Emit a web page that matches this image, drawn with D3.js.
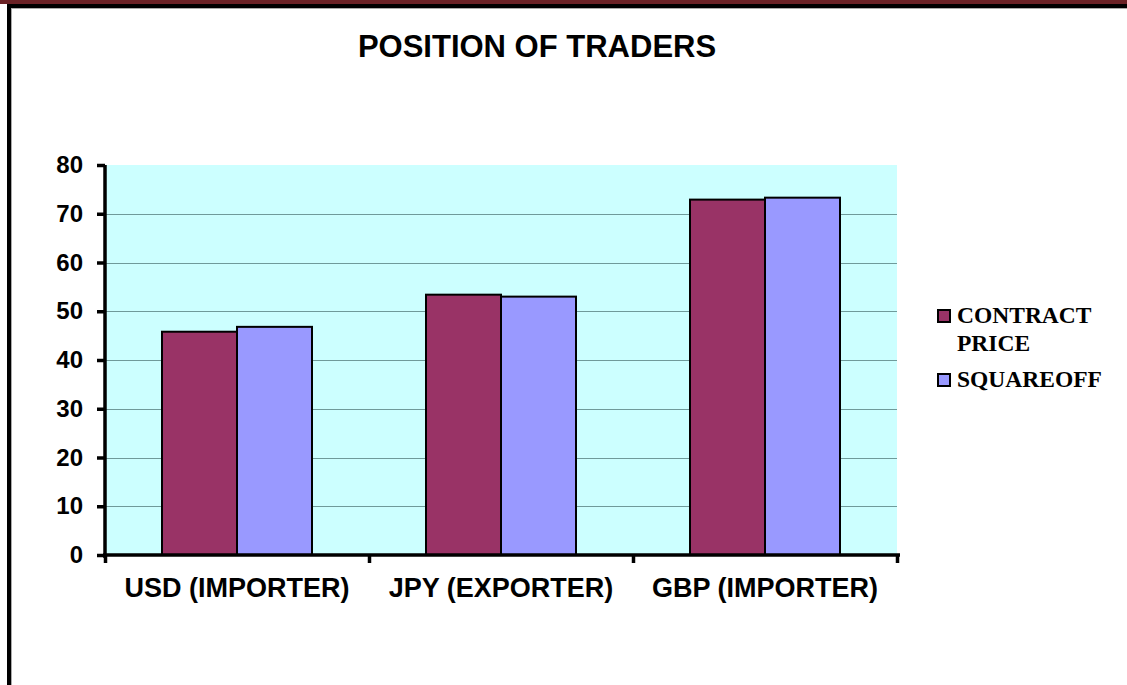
<!DOCTYPE html>
<html lang="en">
<head>
  <meta charset="UTF-8">
  <title>Position of Traders</title>
  <script src="https://d3js.org/d3.v7.min.js"></script>
  <style>
    body { margin: 0; background: #fff; }
    svg { display: block; }
  </style>
</head>
<body>
  <div id="chart"></div>

  <script>
    // data
    const categories = ["USD (IMPORTER)", "JPY (EXPORTER)", "GBP (IMPORTER)"];
    const seriesNames = ["CONTRACT PRICE", "SQUAREOFF"];
    const contractPrice = [45.8, 53.4, 72.9];
    const squareoff = [46.8, 53.0, 73.3];
    const yTicks = [0, 10, 20, 30, 40, 50, 60, 70, 80];

    const colors = ["#993366", "#9999FF"];
    const W = 1127, H = 685;

    const svg = d3.select("#chart").append("svg")
      .attr("width", W)
      .attr("height", H);

    // outer frame
    svg.append("rect").attr("x", 0).attr("y", 0).attr("width", W).attr("height", 4).attr("fill", "#6B2226");
    svg.append("rect").attr("x", 7).attr("y", 4).attr("width", W - 7).attr("height", 4).attr("fill", "#000");
    svg.append("rect").attr("x", 7).attr("y", 4).attr("width", 4).attr("height", H - 4).attr("fill", "#000");
    svg.append("line").attr("x1", 11).attr("x2", W).attr("y1", 8.5).attr("y2", 8.5).attr("stroke", "#aaa");
    svg.append("line").attr("x1", 11.5).attr("x2", 11.5).attr("y1", 8).attr("y2", H).attr("stroke", "#aaa");

    // title
    svg.append("text")
      .attr("x", 537).attr("y", 57)
      .attr("text-anchor", "middle")
      .style("font", "bold 31px Arial, 'Liberation Sans', sans-serif")
      .text("POSITION OF TRADERS");

    const plot = { left: 105, right: 897, top: 165, bottom: 555 };

    const x = d3.scaleBand().domain(categories).range([plot.left, plot.right]);
    const xInner = d3.scaleBand().domain(seriesNames).range([0, x.bandwidth()])
      .paddingInner(0).paddingOuter(0.76);
    const y = d3.scaleLinear().domain([0, 80]).range([plot.bottom, plot.top]);

    // plot background
    svg.append("rect")
      .attr("x", plot.left).attr("y", plot.top)
      .attr("width", plot.right - plot.left).attr("height", plot.bottom - plot.top)
      .attr("fill", "#CCFFFF");

    // gridlines
    svg.append("g").selectAll("line")
      .data(yTicks.filter(d => d > 0 && d < 80))
      .join("line")
      .attr("x1", plot.left).attr("x2", plot.right)
      .attr("y1", d => Math.round(y(d)) + 0.5).attr("y2", d => Math.round(y(d)) + 0.5)
      .attr("stroke", "#6f9a9a").attr("stroke-width", 1);

    // bars
    const rows = categories.map((c, i) => ({ cat: c, values: [contractPrice[i], squareoff[i]] }));
    svg.append("g").selectAll("g")
      .data(rows)
      .join("g")
      .attr("transform", d => `translate(${x(d.cat)},0)`)
      .selectAll("rect")
      .data(d => d.values.map((v, j) => ({ name: seriesNames[j], value: v, j })))
      .join("rect")
      .attr("x", d => xInner(d.name))
      .attr("y", d => y(d.value))
      .attr("width", xInner.bandwidth())
      .attr("height", d => y(0) - y(d.value))
      .attr("fill", d => colors[d.j])
      .attr("stroke", "#000")
      .attr("stroke-width", 2);

    // y axis
    const yAxis = svg.append("g")
      .attr("transform", `translate(${plot.left},0)`)
      .call(d3.axisLeft(y).tickValues(yTicks).tickSize(8).tickSizeOuter(0).tickPadding(14));
    yAxis.select(".domain").attr("stroke-width", 3.5).attr("d", `M0,${plot.top}V${plot.bottom + 3}`);
    yAxis.selectAll(".tick line").attr("stroke-width", 3.5);
    yAxis.selectAll(".tick text")
      .style("font", "bold 24px Arial, 'Liberation Sans', sans-serif")
      .attr("fill", "#000");

    // x axis: ticks on the category boundaries
    const xb = d3.scaleLinear().domain([0, categories.length]).range([plot.left, plot.right]);
    const xAxis = svg.append("g")
      .attr("transform", `translate(0,${plot.bottom})`)
      .call(d3.axisBottom(xb).tickValues(d3.range(categories.length + 1)).tickFormat("").tickSize(8).tickSizeOuter(0));
    xAxis.select(".domain").attr("stroke-width", 3.5).attr("d", `M${plot.left - 2},0H${plot.right + 3}`);
    xAxis.selectAll(".tick line").attr("stroke-width", 3.5);

    svg.append("g").selectAll("text")
      .data(categories)
      .join("text")
      .attr("x", d => x(d) + x.bandwidth() / 2)
      .attr("y", 597)
      .attr("text-anchor", "middle")
      .style("font", "bold 27px Arial, 'Liberation Sans', sans-serif")
      .text(d => d);

    // legend
    const legendFont = "bold 23.5px 'Times New Roman', 'Liberation Serif', serif";
    const legendItems = [
      { lines: ["CONTRACT", "PRICE"], y: 323, color: colors[0] },
      { lines: ["SQUAREOFF"], y: 387, color: colors[1] }
    ];
    const lg = svg.append("g").selectAll("g").data(legendItems).join("g");
    lg.append("rect")
      .attr("x", 938).attr("y", d => d.y - 13)
      .attr("width", 12).attr("height", 12)
      .attr("fill", d => d.color)
      .attr("stroke", "#000").attr("stroke-width", 2);
    lg.each(function (d) {
      const t = d3.select(this).append("text")
        .attr("x", 957).attr("y", d.y)
        .style("font", legendFont);
      d.lines.forEach((l, k) => {
        t.append("tspan").attr("x", 957).attr("dy", k === 0 ? 0 : 28).text(l);
      });
    });
  </script>
</body>
</html>
